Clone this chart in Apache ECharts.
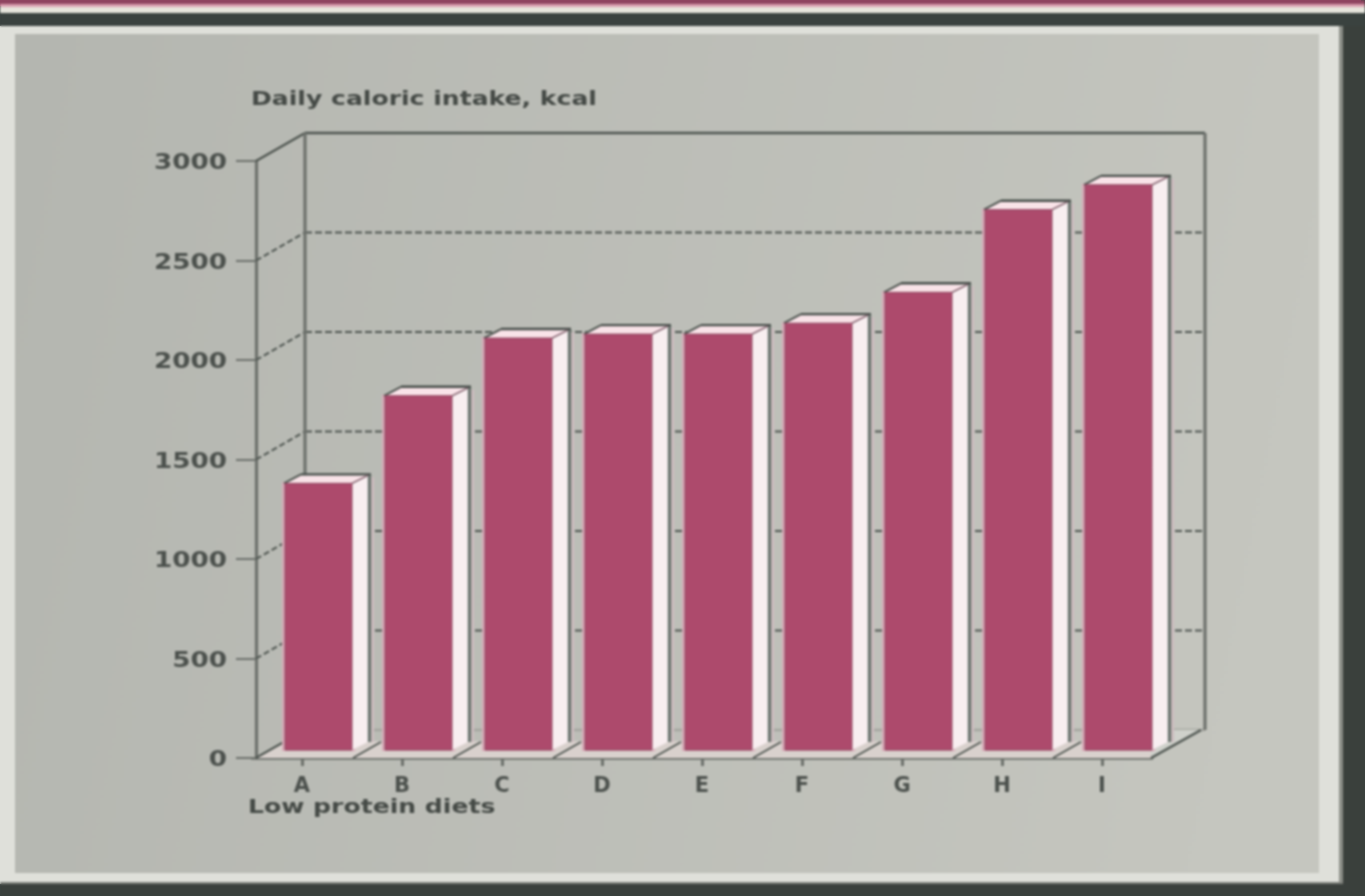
<!DOCTYPE html>
<html><head><meta charset="utf-8">
<style>html,body{margin:0;padding:0;height:100%;overflow:hidden}
body{background:linear-gradient(to left,#3a403c 0 4px,transparent 4px),linear-gradient(#8f4560 0 6px,#3a423f 6px 26px,#dfe0da 26px 884px,#3a423f 884px)}
#c{width:1365px;height:896px;filter:blur(0.9px)}</style>
<script src="https://cdn.jsdelivr.net/npm/echarts@6/dist/echarts.min.js"></script>
</head><body><div id="c"></div>
<script>
var categories = ['A','B','C','D','E','F','G','H','I'];
var calories = [1340,1780,2070,2090,2090,2145,2300,2715,2840];
var yTicks = [0,500,1000,1500,2000,2500,3000];
var yTitle = 'Daily caloric intake, kcal';
var xTitle = 'Low protein diets';

var INK='#4c514d', LINE='#6d716c', DARK='#4e5550';
var BACK=[49,-28], BAR_SHIFT=[16.5,-8], HALF=33.5, DEPTH=[16,-8];
var chart = echarts.init(document.getElementById('c'),null,{renderer:'canvas'});

function poly(pts,fill,stroke,w){return {type:'polygon',shape:{points:pts},style:{fill:fill,stroke:stroke||null,lineWidth:w||0}};}
function seg(a,b,col,w,dash){return {type:'line',shape:{x1:a[0],y1:a[1],x2:b[0],y2:b[1]},style:{stroke:col,lineWidth:w,lineDash:dash||null,fill:null}};}
function rect(x,y,w,h,fill,z){return {type:'rect',z:z||-10,silent:true,shape:{x:x,y:y,width:w,height:h},style:{fill:fill}};}

var wallSeries = {type:'custom',z:3,silent:true,data:yTicks.map(function(v){return [0,v];}),
  encode:{x:0,y:1},
  renderItem:function(p,api){
    var v=api.value(1), c=api.coord([0,v]), L=api.coord([0,0])[0]-api.size([1,0])[0]/2+4;
    var R=L+ api.size([1,0])[0]*9 -6;
    var a=[L,c[1]], b=[L+BACK[0],c[1]+BACK[1]], e=[R+BACK[0]+6,c[1]+BACK[1]];
    var top=v===3000, zero=v===0, ch=[];
    if(top||zero){ ch.push(seg(a,b,DARK,2.2)); ch.push(seg(b,e,zero?'#a5a6a0':DARK,2.4)); }
    else { ch.push(seg(a,b,DARK,2,[6,3])); ch.push(seg(b,e,DARK,2,[7,3])); }
    if(top){
      var bot=api.coord([0,0])[1]+BACK[1];
      ch.push(seg(b,[b[0],bot],LINE,3.2));
      ch.push(seg([e[0],e[1]],[e[0],bot],LINE,3.2));
    }
    return {type:'group',children:ch};
  }};

var floorSeries = {type:'custom',z:4,silent:true,data:categories.map(function(c,i){return [i,0];}),
  encode:{x:0,y:1},
  renderItem:function(p,api){
    var i=api.value(0), c=api.coord([i,0]), w=api.size([1,0])[0], y=c[1];
    var xl=c[0]-w/2+(i===0?4:3), xr=c[0]+w/2+1;
    var ch=[poly([[xl,y],[xr,y],[xr+BACK[0]*0.6,y+BACK[1]*0.6],[xl+BACK[0]*0.6,y+BACK[1]*0.6]],'#d9d1cd')];
    if(i===8) ch.push(poly([[xr-2,y],[xr+47,y+BACK[1]],[xr-2,y+BACK[1]]],'#cfd1cb'));
    ch.push(seg([xr,y],[xr+28,y-16],DARK,2));
    ch.push(seg([xr+6,y],[xr+34,y-16],LINE,1.6));
    if(i===0) ch.push(seg([xl,y],[xl+30,y-17],DARK,2));
    if(i===8) { ch.splice(-2,2); ch.push(seg([xr-2,y],[xr+48,y+BACK[1]],DARK,2.4)); }
    return {type:'group',children:ch};
  }};

var barSeries = {type:'custom',z:5,silent:true,data:calories.map(function(v,i){return [i,v];}),
  encode:{x:0,y:1},
  renderItem:function(p,api){
    var i=api.value(0), v=api.value(1), t=api.coord([i,v]), b=api.coord([i,0]);
    var x0=t[0]+BAR_SHIFT[0]-HALF, x1=t[0]+BAR_SHIFT[0]+HALF, yt=t[1]+BAR_SHIFT[1], yb=b[1]+BAR_SHIFT[1];
    var dx=DEPTH[0], dy=DEPTH[1];
    return {type:'group',children:[
      {type:'rect',shape:{x:x1+dx+3,y:yt+dy+2,width:3,height:yb-yt-2},style:{fill:'#cdbcbf'}},
      {type:'rect',shape:{x:x0-3,y:yt-1,width:x1-x0+6,height:yb-yt+2},style:{fill:'#d8a9b7'}},
      poly([[x1,yt],[x1+dx,yt+dy],[x1+dx,yb+dy],[x1,yb]],'#f8eef0'),
      seg([x1+dx+1.5,yt+dy],[x1+dx+1.5,yb+dy],'#6c7670',3.4),
      poly([[x0,yt],[x0+dx,yt+dy],[x1+dx,yt+dy],[x1,yt]],'#f9e3e8'),
      seg([x0-1,yt],[x0+dx,yt+dy-1],DARK,2),
      seg([x0+dx,yt+dy-1],[x1+dx+3,yt+dy-1],'#474e4a',2.4),
      seg([x1,yt],[x1+dx,yt+dy],'#7a5a66',1.4),
      {type:'rect',shape:{x:x0,y:yt,width:x1-x0,height:yb-yt},style:{fill:'#ad4a6c',stroke:'#8f4a62',lineWidth:1}}
    ]};
  }};

var labelSeries = {type:'custom',z:6,silent:true,data:yTicks.map(function(v){return [0,v];}),
  encode:{x:0,y:1},
  renderItem:function(p,api){
    var v=api.value(1), c=api.coord([0,v]);
    return {type:'text',x:227,y:c[1]+3,scaleX:1.25,
      style:{text:String(v),fill:INK,font:'bold 21px "DejaVu Sans"',align:'right',verticalAlign:'middle'}};
  }};

chart.setOption({
  animation:false,
  backgroundColor:'#3a403c',
  grid:{left:252,top:161,width:900,height:597,containLabel:false},
  xAxis:{type:'category',data:categories,boundaryGap:true,
    axisLine:{show:true,lineStyle:{color:LINE,width:2.6}},
    axisTick:{show:true,alignWithLabel:true,length:8,lineStyle:{color:LINE,width:3}},
    splitLine:{show:false},
    axisLabel:{margin:18,color:INK,fontFamily:'DejaVu Sans',fontWeight:'bold',fontSize:21,interval:0}},
  yAxis:{type:'value',min:0,max:3000,interval:500,offset:-4,
    axisLine:{show:true,onZero:false,lineStyle:{color:LINE,width:3.2}},
    axisTick:{show:true,length:20,lineStyle:{color:LINE,width:2}},
    axisLabel:{show:false},splitLine:{show:false}},
  graphic:{elements:[
    rect(0,0,1365,4,'#8f4560'),
    rect(0,4,1365,3,'#d9a0b0'),
    rect(0,7,1365,6,'#e6e5dc'),
    rect(0,13,1365,13,'#3a423f'),
    rect(0,26,1343,858,'#dfe0da'),
    rect(1339,26,4,858,'#8c8f88'),
    rect(0,882,1343,2,'#7d807a'),
    {type:'rect',z:-9,silent:true,shape:{x:15,y:34,width:1304,height:839},
      style:{fill:{type:'linear',x:0,y:0,x2:1,y2:0.3,colorStops:[{offset:0,color:'#b4b6b0'},{offset:1,color:'#c5c6bf'}]}}},
    {type:'text',z:10,silent:true,x:251,y:100,scaleX:1.32,style:{text:yTitle,fill:'#454a46',font:'bold 19px "DejaVu Sans"',align:'left',verticalAlign:'middle'}},
    {type:'text',z:10,silent:true,x:248,y:808,scaleX:1.32,style:{text:xTitle,fill:'#454a46',font:'bold 19px "DejaVu Sans"',align:'left',verticalAlign:'middle'}}
  ]},
  series:[wallSeries,floorSeries,barSeries,labelSeries]
});
</script></body></html>
